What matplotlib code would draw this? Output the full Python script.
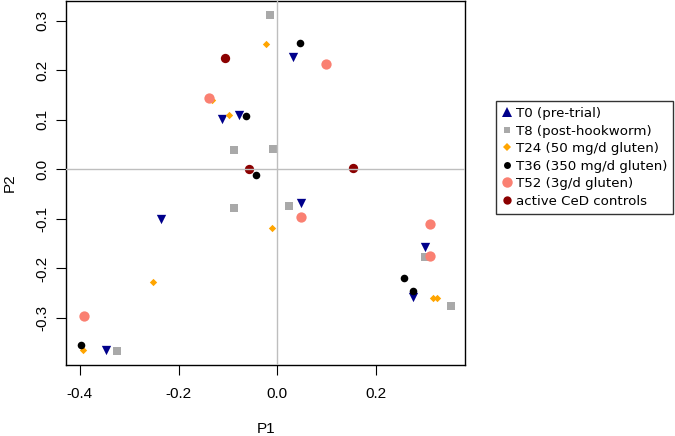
import numpy as np
import matplotlib
matplotlib.use("Agg")
import matplotlib.pyplot as plt
from matplotlib.lines import Line2D

# PCA coordinates, one group per timepoint
t0_x = [0.032, -0.113, -0.078, 0.049, -0.236, -0.347, 0.299, 0.275]
t0_y = [0.226, 0.102, 0.110, -0.068, -0.101, -0.365, -0.157, -0.258]
t8_x = [-0.014, -0.088, -0.009, -0.088, 0.024, -0.324, 0.300, 0.351]
t8_y = [0.312, 0.039, 0.042, -0.077, -0.074, -0.366, -0.176, -0.276]
t24_x = [-0.022, -0.132, -0.098, -0.010, -0.251, -0.393, 0.315, 0.323]
t24_y = [0.252, 0.139, 0.110, -0.118, -0.228, -0.364, -0.260, -0.260]
t36_x = [0.045, -0.063, -0.044, 0.256, 0.275, -0.397]
t36_y = [0.255, 0.107, -0.011, -0.220, -0.246, -0.355]
t52_x = [0.099, -0.139, 0.049, 0.310, 0.310, -0.392]
t52_y = [0.212, 0.143, -0.097, -0.111, -0.175, -0.295]
ced_x = [-0.105, -0.057, 0.154]
ced_y = [0.224, 0.001, 0.002]

labels = ["T0 (pre-trial)", "T8 (post-hookworm)", "T24 (50 mg/d gluten)",
          "T36 (350 mg/d gluten)", "T52 (3g/d gluten)", "active CeD controls"]

plt.rcParams['font.family'] = ['Liberation Sans', 'DejaVu Sans']
fig = plt.figure(figsize=(6.75, 4.36), dpi=100)
ax = fig.add_axes([0.0985, 0.163, 0.591, 0.834])

ax.scatter(t0_x, t0_y, marker='v', s=45, color='#00008B', linewidths=0, zorder=3)
ax.scatter(t8_x, t8_y, marker='s', s=30, color='#A9A9A9', linewidths=0, zorder=3)
ax.scatter(t24_x, t24_y, marker='D', s=14, color='#FFA500', linewidths=0, zorder=3)
ax.scatter(t36_x, t36_y, marker='o', s=30, color='black', linewidths=0, zorder=3)
ax.scatter(t52_x, t52_y, marker='o', s=55, color='#FA8072', linewidths=0, zorder=3)
ax.scatter(ced_x, ced_y, marker='o', s=45, color='#8B0000', linewidths=0, zorder=3)

ax.axhline(0, color='#BEBEBE', lw=1, zorder=4)
ax.axvline(0, color='#BEBEBE', lw=1, zorder=4)

# R-style 4% padding around the data range
ax.set_xlim(-0.427, 0.381)
ax.set_ylim(-0.3946, 0.339)
ax.set_xticks([-0.4, -0.2, 0.0, 0.2])
ax.set_xticklabels(['-0.4', '-0.2', '0.0', '0.2'])
ax.set_yticks([-0.3, -0.2, -0.1, 0.0, 0.1, 0.2, 0.3])
ax.set_yticklabels(['-0.3', '-0.2', '-0.1', '0.0', '0.1', '0.2', '0.3'], rotation=90, va='center')
ax.tick_params(direction='out', length=7, width=0.8, labelsize=11, pad=5)
ax.tick_params(axis='x', pad=9)
for sp in ax.spines.values():
    sp.set_linewidth(1)
ax.set_xlabel('P1', fontsize=11, labelpad=15)
ax.set_ylabel('P2', fontsize=11, labelpad=14)

# legend (T0 shown with an upward triangle, as in the source)
handles = [
    Line2D([], [], ls='', marker='^', ms=6.5, color='#00008B', mew=0),
    Line2D([], [], ls='', marker='s', ms=5, color='#A9A9A9', mew=0),
    Line2D([], [], ls='', marker='D', ms=3.6, color='#FFA500', mew=0),
    Line2D([], [], ls='', marker='o', ms=5, color='black', mew=0),
    Line2D([], [], ls='', marker='o', ms=7.5, color='#FA8072', mew=0),
    Line2D([], [], ls='', marker='o', ms=6, color='#8B0000', mew=0),
]
leg = fig.legend(handles, labels, loc='upper left', bbox_to_anchor=(0.7348, 0.7683),
                 prop={'family': 'DejaVu Sans', 'size': 9.6}, frameon=True, fancybox=False,
                 edgecolor='black', handlelength=0.8, handletextpad=0.25,
                 labelspacing=0.34, borderpad=0.45, borderaxespad=0)
leg.get_frame().set_linewidth(1)

fig.savefig('out.png', dpi=100)
